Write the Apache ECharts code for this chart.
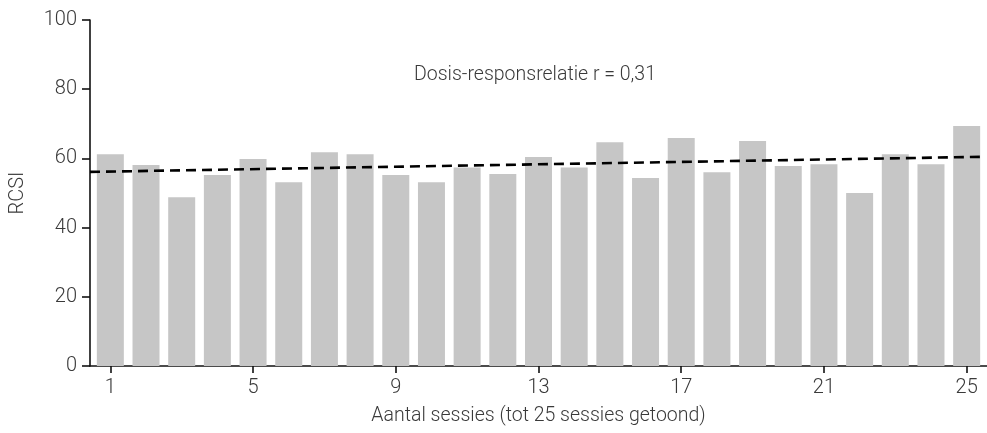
<!DOCTYPE html>
<html>
<head>
<meta charset="utf-8">
<script src="https://cdn.jsdelivr.net/npm/echarts@6/dist/echarts.min.js"></script>
<style>
html,body{margin:0;padding:0;background:#fff;}
#chart{width:987px;height:433px;}
</style>
</head>
<body>
<div id="chart"></div>
<script>
// Data
var sessions = [1,2,3,4,5,6,7,8,9,10,11,12,13,14,15,16,17,18,19,20,21,22,23,24,25];
var rcsi = [61.2,58.1,48.8,55.2,59.8,53.1,61.8,61.2,55.2,53.1,57.4,55.5,60.4,57.4,64.7,54.3,65.9,56.0,65.0,57.8,58.3,50.0,61.2,58.3,69.4];
var xTickLabels = [1,5,9,13,17,21,25];
var yTicks = [0,20,40,60,80,100];
var trendX = [0.43, 25.38];
var trendY = [56.1, 60.45];
var annotation = 'Dosis-responsrelatie r = 0,31';
var xTitle = 'Aantal sessies (tot 25 sessies getoond)';
var yTitle = 'RCSI';

var FONT = 'Roboto';
var TXT = '#3a3a3a';
var chart = echarts.init(document.getElementById('chart'), null, {renderer:'canvas'});
var barData = sessions.map(function(s,i){return [s, rcsi[i]];});
var trendData = trendX.map(function(x,i){return [x, trendY[i]];});

chart.setOption({
  animation:false,
  backgroundColor:'#fff',
  title:{text:annotation, left:414, top:65, padding:0, textStyle:{fontFamily:FONT, fontWeight:300, fontSize:19.5, color:TXT}},
  grid:{left:86, right:0, top:20, bottom:67},
  xAxis:{
    type:'value', min:0.43, max:25.57,
    name:xTitle, nameLocation:'middle', nameGap:40,
    nameTextStyle:{fontFamily:FONT, fontWeight:300, fontSize:19.5, color:TXT},
    axisLine:{show:true, onZero:false, lineStyle:{color:'#111', width:1.6}},
    axisTick:{show:true, length:7, customValues:xTickLabels, lineStyle:{color:'#111', width:1.6}},
    axisLabel:{customValues:xTickLabels, fontFamily:FONT, fontWeight:300, fontSize:20, color:TXT, margin:12},
    splitLine:{show:false}
  },
  yAxis:{
    type:'value', min:0, max:100, interval:20,
    name:yTitle, nameLocation:'middle', nameGap:62, nameRotate:90,
    nameTextStyle:{fontFamily:FONT, fontWeight:300, fontSize:20, color:TXT},
    axisLine:{show:true, lineStyle:{color:'#111', width:1.6}},
    axisTick:{show:true, length:8, lineStyle:{color:'#111', width:1.6}},
    axisLabel:{fontFamily:FONT, fontWeight:300, fontSize:20, color:TXT, margin:13},
    splitLine:{show:false}
  },
  series:[
    {type:'bar', data:barData, barWidth:27, itemStyle:{color:'#c6c6c6'}, silent:true},
    {type:'line', data:trendData, symbol:'none', z:5, lineStyle:{color:'#000', width:2.6, type:[10,6]}, silent:true}
  ]
});
</script>
</body>
</html>
